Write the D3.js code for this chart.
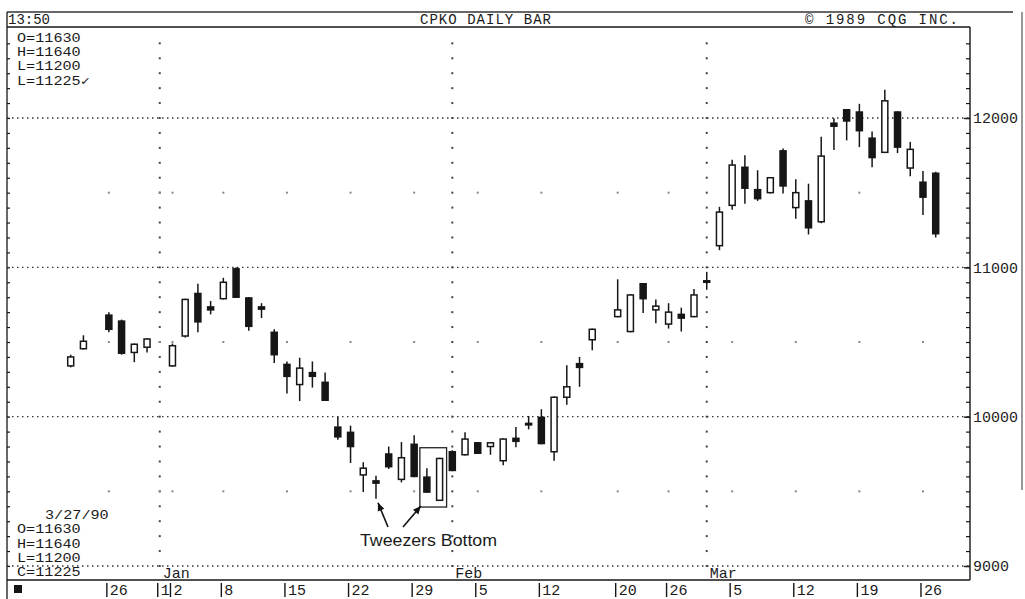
<!DOCTYPE html>
<html><head><meta charset="utf-8">
<script src="https://cdn.jsdelivr.net/npm/d3@7"></script>
<style>
body{margin:0;background:#fff}
svg{display:block}
text{fill:#1a1a1a}
</style>
</head><body><svg id="c" width="1025" height="599"></svg>
<script>
// ---- data ----
const dates = ["1989-12-21","1989-12-22","1989-12-26","1989-12-27","1989-12-28","1989-12-29",
"1990-01-02","1990-01-03","1990-01-04","1990-01-05","1990-01-08","1990-01-09","1990-01-10","1990-01-11","1990-01-12",
"1990-01-15","1990-01-16","1990-01-17","1990-01-18","1990-01-19","1990-01-22","1990-01-23","1990-01-24","1990-01-25","1990-01-26",
"1990-01-29","1990-01-30","1990-01-31","1990-02-01","1990-02-02","1990-02-05","1990-02-06","1990-02-07","1990-02-08","1990-02-09",
"1990-02-12","1990-02-13","1990-02-14","1990-02-15","1990-02-16","1990-02-20","1990-02-21","1990-02-22","1990-02-23",
"1990-02-26","1990-02-27","1990-02-28","1990-03-01","1990-03-02","1990-03-05","1990-03-06","1990-03-07","1990-03-08","1990-03-09",
"1990-03-12","1990-03-13","1990-03-14","1990-03-15","1990-03-16","1990-03-19","1990-03-20","1990-03-21","1990-03-22","1990-03-23",
"1990-03-26","1990-03-27"];
const openV  = [10340,10455,10680,10640,10430,10465, 10340,10540,10825,10735,10790,10990,10795,10735,10565,
10350,10215,10295,10230,9930,9895,9610,9570,9750,9580, 9815,9595,9440,9765,9745,9825,9800,9705,9855,9955,
9995,9765,10130,10355,10515,10670,10570,10890,10715, 10620,10685,10670,10910,11145,11415,11670,11520,11500,11780,
11400,11445,11305,11965,12055,12040,11865,11770,12040,11665, 11570,11630];
const highV  = [10415,10545,10700,10650,10490,10525, 10490,10790,10890,10775,10930,11000,10800,10760,10585,
10370,10395,10370,10295,10000,9940,9695,9605,9800,9830, 9875,9655,9725,9775,9895,9830,9830,9855,9930,10005,
10050,10135,10345,10400,10590,10920,10820,10895,10785, 10760,10730,10855,10970,11405,11720,11750,11650,11605,11795,
11590,11560,11875,11998,12060,12095,11910,12190,12045,11840, 11645,11640];
const lowV   = [10330,10450,10565,10415,10365,10430, 10335,10530,10565,10685,10785,10795,10575,10660,10360,
10155,10105,10195,10105,9845,9690,9495,9450,9650,9560, 9595,9490,9435,9635,9740,9750,9745,9675,9795,9915,
9815,9705,10080,10200,10445,10665,10565,10695,10625, 10590,10570,10665,10850,11115,11385,11425,11445,11495,11495,
11325,11220,11295,11785,11850,11805,11670,11765,11765,11610, 11350,11200];
const closeV = [10400,10505,10585,10425,10485,10520, 10475,10785,10635,10715,10900,10800,10605,10720,10415,
10270,10325,10270,10110,9865,9800,9655,9555,9665,9725, 9600,9495,9720,9640,9850,9755,9825,9850,9835,9950,
9820,10130,10200,10330,10585,10715,10815,10790,10740, 10700,10660,10815,10905,11370,11685,11530,11460,11600,11545,
11500,11265,11745,11945,11980,11915,11735,12115,11805,11790, 11470,11225];
const priceTicks = [9000,10000,11000,12000];
const dayTickDates  = ["1989-12-26","1990-01-01","1990-01-02","1990-01-08","1990-01-15","1990-01-22","1990-01-29","1990-02-05","1990-02-12","1990-02-20","1990-02-26","1990-03-05","1990-03-12","1990-03-19","1990-03-26"];
const dayTickLabels = ["26","1","2","8","15","22","29","5","12","20","26","5","12","19","26"];
const monthDates  = ["1990-01-01","1990-02-01","1990-03-01"];
const monthLabels = ["Jan","Feb","Mar"];
const topInfo = ["O=11630","H=11640","L=11200","L=11225\u2713"];
const bottomInfo = ["3/27/90","O=11630","H=11640","L=11200","C=11225"];
const tweezerDates = ["1990-01-30","1990-01-31"];
const tweezerArrowDate = "1990-01-24";

// ---- scales ----
const fmt = d3.timeFormat("%Y-%m-%d");
const slots = d3.timeDay.range(new Date(1989,11,21), new Date(1990,2,28))
  .filter(d => d.getDay() !== 0 && d.getDay() !== 6).map(fmt);
const x = d3.scalePoint().domain(slots).range([70.7, 935.7]);
const y = d3.scaleLinear().domain([9000,12000]).range([566,118]);

const MONO = "'Liberation Mono','DejaVu Sans Mono',monospace";
const SANS = "'Liberation Sans',Arial,sans-serif";
const L = 7, R = 970, T = 27, B = 580;
const svg = d3.select("#c");
const ink = "#161616";

// frame
svg.append("line").attr("x1",L).attr("x2",1013).attr("y1",12).attr("y2",12).attr("stroke","#333").attr("stroke-width",1.6);
svg.append("line").attr("x1",L).attr("x2",R).attr("y1",T).attr("y2",T).attr("stroke",ink).attr("stroke-width",1.3);
svg.append("line").attr("x1",L).attr("x2",L).attr("y1",12).attr("y2",599).attr("stroke",ink).attr("stroke-width",1.3);
svg.append("line").attr("x1",R).attr("x2",R).attr("y1",T).attr("y2",B).attr("stroke",ink).attr("stroke-width",1.4);
svg.append("line").attr("x1",L).attr("x2",R).attr("y1",B).attr("y2",B).attr("stroke",ink).attr("stroke-width",1.4);
svg.append("line").attr("x1",1022).attr("x2",1022).attr("y1",12).attr("y2",490).attr("stroke","#999").attr("stroke-width",2);

// header text
const hdr = (xx, s, len) => {
  const t = svg.append("text").attr("x",xx).attr("y",24).style("font-family",MONO).style("font-size","14px").text(s);
  if (len) t.attr("textLength",len).attr("lengthAdjust","spacing");
};
hdr(8,"13:50");
hdr(420,"CPKO DAILY BAR",131);
hdr(805,"\u00A9 1989 CQG INC.",153);

// minor ticks (every 100) on right axis and left border
const minor = d3.range(8900, 12700, 100);
const minorIn = minor.filter(v=>y(v)>T+2 && y(v)<B-2);
svg.append("g").attr("transform",`translate(${R},0)`)
  .call(d3.axisLeft(y).tickValues(minorIn).tickSize(4).tickFormat(""))
  .call(g=>g.select(".domain").remove())
  .call(g=>g.selectAll("line").attr("stroke",ink).attr("stroke-width",1.2));
svg.append("g").attr("transform",`translate(${L},0)`)
  .call(d3.axisRight(y).tickValues(minorIn).tickSize(3).tickFormat(""))
  .call(g=>g.select(".domain").remove())
  .call(g=>g.selectAll("line").attr("stroke",ink).attr("stroke-width",1.2));
// major labels on right
svg.append("g").attr("transform",`translate(${R},0)`)
  .call(d3.axisRight(y).tickValues(priceTicks).tickSize(-6).tickPadding(3).tickFormat(d3.format("d")))
  .call(g=>g.select(".domain").remove())
  .call(g=>g.selectAll("line").attr("stroke",ink).attr("stroke-width",1.4))
  .call(g=>g.selectAll("text").style("font-size","15px").style("font-family",MONO).style("fill","#222"));

// horizontal dotted grid
svg.append("g").selectAll("line").data(priceTicks).join("line")
  .attr("x1",L).attr("x2",R).attr("y1",d=>y(d)).attr("y2",d=>y(d))
  .attr("stroke","#333").attr("stroke-width",1.3).attr("stroke-dasharray","1.5,3.5");

// vertical dotted month lines (dots at every 100 level)
const vdots = [];
monthDates.forEach(m => minor.forEach(v => { if (y(v) > T+4 && y(v) < B-6) vdots.push([x(m), y(v)]); }));
svg.append("g").selectAll("rect").data(vdots).join("rect")
  .attr("x",d=>d[0]-1).attr("y",d=>d[1]-1).attr("width",2).attr("height",2).attr("fill","#444");

// faint weekly dots at half levels
const half = [9500,10500,11500];
const fd = [];
half.forEach(v => dayTickDates.forEach(dd => fd.push([x(dd), y(v)])));
svg.append("g").selectAll("rect").data(fd).join("rect")
  .attr("x",d=>d[0]-1).attr("y",d=>d[1]-1).attr("width",2).attr("height",2).attr("fill","#888");

// candles
const bw = 6;
const data = dates.map((d,i)=>({d, o:openV[i], h:highV[i], l:lowV[i], c:closeV[i]}));
const cg = svg.append("g");
cg.selectAll("line").data(data).join("line")
  .attr("x1",d=>x(d.d)).attr("x2",d=>x(d.d)).attr("y1",d=>y(d.h)).attr("y2",d=>y(d.l))
  .attr("stroke",ink).attr("stroke-width",1.5);
cg.selectAll("rect").data(data).join("rect")
  .attr("x",d=>x(d.d)-bw/2)
  .attr("y",d=>Math.min(y(d.o),y(d.c)))
  .attr("width",bw)
  .attr("height",d=>Math.max(Math.abs(y(d.o)-y(d.c)),1.5))
  .attr("fill",d=>d.c>d.o?"#fff":ink)
  .attr("stroke",ink).attr("stroke-width",1.5);

// side info text (compact mono, stretched to reference widths)
const infoG = svg.append("g");
infoG.selectAll("text.t").data(topInfo).join("text").attr("class","t")
  .attr("x",17).attr("y",(d,i)=>42+i*14.2)
  .style("font-family",MONO).style("font-size","12.5px")
  .attr("textLength",d=>d.length*9.1).attr("lengthAdjust","spacingAndGlyphs").text(d=>d);
infoG.selectAll("text.b").data(bottomInfo).join("text").attr("class","b")
  .attr("x",(d,i)=>i===0?45:17).attr("y",(d,i)=>519+i*14.3)
  .style("font-family",MONO).style("font-size","12.5px")
  .attr("textLength",d=>d.length*9.1).attr("lengthAdjust","spacingAndGlyphs").text(d=>d);

// bottom date row
svg.append("rect").attr("x",14).attr("y",585).attr("width",8).attr("height",8).attr("fill",ink);
const dg = svg.append("g");
dg.selectAll("line").data(dayTickDates).join("line")
  .attr("x1",d=>x(d)-2).attr("x2",d=>x(d)-2).attr("y1",583).attr("y2",597)
  .attr("stroke",ink).attr("stroke-width",1.4);
dg.selectAll("text").data(dayTickDates).join("text")
  .attr("x",d=>x(d)+1).attr("y",595).style("font-family",MONO).style("font-size","15px").text((d,i)=>dayTickLabels[i]);
svg.append("g").selectAll("text").data(monthDates).join("text")
  .attr("x",d=>x(d)+3).attr("y",578).style("font-family",MONO).style("font-size","15px").text((d,i)=>monthLabels[i]);

// Tweezers annotation
const tw = data.filter(d=>tweezerDates.includes(d.d));
const bx0 = x(tweezerDates[0]) - 7, bx1 = x(tweezerDates[1]) + 7;
const by0 = y(d3.max(tw,d=>d.h)) - 10, by1 = y(d3.min(tw,d=>d.l)) + 6;
svg.append("rect").attr("x",bx0).attr("y",by0).attr("width",bx1-bx0).attr("height",by1-by0)
  .attr("fill","none").attr("stroke","#222").attr("stroke-width",1.3);
const a1 = data.find(d=>d.d===tweezerArrowDate);
function arrow(x1,y1,x2,y2){
  svg.append("line").attr("x1",x1).attr("y1",y1).attr("x2",x2).attr("y2",y2).attr("stroke","#111").attr("stroke-width",1.6);
  const ang = Math.atan2(y2-y1,x2-x1), s=8, w=3.5;
  const bx = x2 - s*Math.cos(ang), byy = y2 - s*Math.sin(ang);
  const px = -Math.sin(ang)*w, py = Math.cos(ang)*w;
  svg.append("path").attr("d",`M${x2},${y2}L${bx+px},${byy+py}L${bx-px},${byy-py}Z`).attr("fill","#111");
}
arrow(388,527, x(tweezerArrowDate)+2, y(a1.l)+4);
arrow(403,527, bx0+1, by1-1);
svg.append("text").attr("x",360).attr("y",546).style("font-family",SANS)
  .style("font-size","16px").attr("textLength",137).attr("lengthAdjust","spacingAndGlyphs").text("Tweezers Bottom");
</script></body></html>
